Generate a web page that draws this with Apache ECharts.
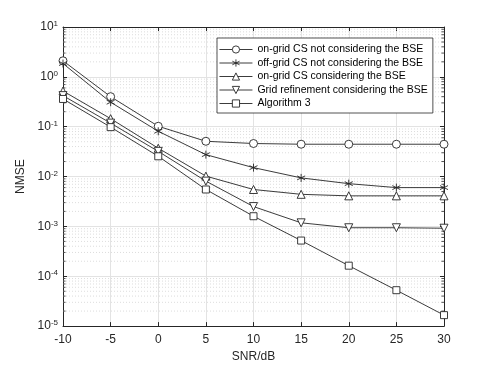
<!DOCTYPE html>
<html>
<head>
<meta charset="utf-8">
<script src="https://cdn.jsdelivr.net/npm/echarts@6/dist/echarts.min.js"></script>
<style>
  html, body { margin: 0; padding: 0; background: #fff; }
  #chart { width: 491px; height: 368px; }
</style>
</head>
<body>
<div id="chart"></div>
<script>
// values
const snr = [-10, -5, 0, 5, 10, 15, 20, 25, 30];
const onGridNoBse = [2.1, 0.40, 0.102, 0.051, 0.046, 0.0445, 0.0445, 0.0445, 0.0445];
const offGridNoBse = [1.85, 0.31, 0.081, 0.0275, 0.0151, 0.0094, 0.0072, 0.006, 0.006];
const onGridBse = [0.52, 0.145, 0.037, 0.0102, 0.0055, 0.0044, 0.0041, 0.0041, 0.0041];
const gridRefine = [0.42, 0.118, 0.032, 0.0081, 0.0025, 0.00118, 0.00094, 0.00094, 0.00092];
const algorithm3 = [0.36, 0.098, 0.0255, 0.0055, 0.0016, 0.00052, 0.000163, 0.0000525, 0.0000166];

const seriesNames = [
    'on-grid CS not considering the BSE',
    'off-grid CS not considering the BSE',
    'on-grid CS considering the BSE',
    'Grid refinement considering the BSE',
    'Algorithm 3'
];

const xMin = -10, xMax = 30;
const yMin = 1e-5, yMax = 10;

// minor log grid positions (2..9 x each decade)
const minorLevels = [];
for (let k = -5; k < 1; k++) {
    for (let m = 2; m <= 9; m++) {
        minorLevels.push([xMin, m * Math.pow(10, k)]);
    }
}

const ink = '#262626';
const starPath = 'path://M5 0V10M0.7 2.5L9.3 7.5M0.7 7.5L9.3 2.5';

function pairs(values) {
    return snr.map((x, i) => [x, values[i]]);
}

function makeLine(name, values, symbol, size, rotate) {
    return {
        name: name,
        type: 'line',
        data: pairs(values),
        symbol: symbol,
        symbolSize: size,
        symbolRotate: rotate || 0,
        showAllSymbol: true,
        z: 5,
        lineStyle: { color: ink, width: 0.9 },
        itemStyle: { color: '#fff', borderColor: ink, borderWidth: 0.9 },
        emphasis: { disabled: true }
    };
}

const chart = echarts.init(document.getElementById('chart'));

const option = {
    animation: false,
    backgroundColor: '#fff',
    textStyle: { fontFamily: 'Liberation Sans, Arial, sans-serif', color: ink },
    grid: { left: 63, right: 47, top: 27, bottom: 41 },
    legend: {
        orient: 'vertical',
        left: 217,
        top: 38,
        itemWidth: 33,
        itemHeight: 9,
        itemGap: 2.5,
        padding: [6, 5, 4, 2],
        backgroundColor: '#fff',
        borderColor: ink,
        borderWidth: 0.8,
        borderRadius: 0,
        itemStyle: { borderWidth: 0.9, borderColor: ink, color: '#fff' },
        lineStyle: { width: 0.9, color: ink },
        data: seriesNames,
        textStyle: { fontSize: 10.5, color: '#000', fontFamily: 'Liberation Sans, Arial, sans-serif' }
    },
    xAxis: [{
        type: 'value',
        min: xMin,
        max: xMax,
        interval: 5,
        name: 'SNR/dB',
        nameLocation: 'middle',
        nameGap: 24,
        nameTextStyle: { fontSize: 12, color: ink },
        axisLine: { onZero: false, lineStyle: { color: ink, width: 1 } },
        axisTick: { inside: true, length: 4, lineStyle: { color: ink } },
        axisLabel: { fontSize: 12, color: ink, margin: 8 },
        splitLine: { show: true, lineStyle: { color: '#e3e3e3', width: 1 } }
    }, {
        type: 'value',
        position: 'top',
        min: xMin,
        max: xMax,
        interval: 5,
        axisLine: { onZero: false, lineStyle: { color: ink, width: 1 } },
        axisTick: { inside: true, length: 4, lineStyle: { color: ink } },
        axisLabel: { show: false },
        splitLine: { show: false }
    }],
    yAxis: [{
        type: 'log',
        logBase: 10,
        min: yMin,
        max: yMax,
        splitNumber: 6,
        name: 'NMSE',
        nameLocation: 'middle',
        nameGap: 23,
        nameTextStyle: { fontSize: 12, color: ink },
        axisLine: { onZero: false, lineStyle: { color: ink, width: 1 } },
        axisTick: { inside: true, length: 4, lineStyle: { color: ink } },
        axisLabel: {
            margin: 5,
            formatter: function (v) {
                const e = Math.round(Math.log10(v));
                return '{b|10}{s|' + e + '}';
            },
            rich: {
                b: { fontSize: 12, color: ink, lineHeight: 14 },
                s: { fontSize: 8, color: ink, verticalAlign: 'top', lineHeight: 14, padding: [0, 0, 7, 0] }
            }
        },
        splitLine: { show: true, lineStyle: { color: '#e3e3e3', width: 1 } }
    }, {
        type: 'log',
        logBase: 10,
        position: 'right',
        min: yMin,
        max: yMax,
        splitNumber: 6,
        axisLine: { onZero: false, lineStyle: { color: ink, width: 1 } },
        axisTick: { inside: true, length: 4, lineStyle: { color: ink } },
        axisLabel: { show: false },
        splitLine: { show: false }
    }],
    series: [
        {
            name: 'minor grid',
            type: 'custom',
            silent: true,
            z: 1,
            data: minorLevels,
            renderItem: function (params, api) {
                const v = api.value(1);
                const a = api.coord([xMin, v]);
                const b = api.coord([xMax, v]);
                return {
                    type: 'group',
                    children: [{
                        type: 'line',
                        shape: { x1: a[0], y1: a[1], x2: b[0], y2: b[1] },
                        style: { stroke: '#cfcfcf', lineWidth: 0.7, lineDash: [1, 2] }
                    }, {
                        type: 'line',
                        shape: { x1: a[0], y1: a[1], x2: a[0] + 2.5, y2: a[1] },
                        style: { stroke: ink, lineWidth: 0.8 }
                    }, {
                        type: 'line',
                        shape: { x1: b[0] - 2.5, y1: b[1], x2: b[0], y2: b[1] },
                        style: { stroke: ink, lineWidth: 0.8 }
                    }]
                };
            }
        },
        makeLine(seriesNames[0], onGridNoBse, 'circle', 8),
        makeLine(seriesNames[1], offGridNoBse, starPath, 8),
        makeLine(seriesNames[2], onGridBse, 'triangle', 8),
        makeLine(seriesNames[3], gridRefine, 'triangle', 8, 180),
        makeLine(seriesNames[4], algorithm3, 'rect', 7)
    ]
};

chart.setOption(option);
</script>
</body>
</html>
